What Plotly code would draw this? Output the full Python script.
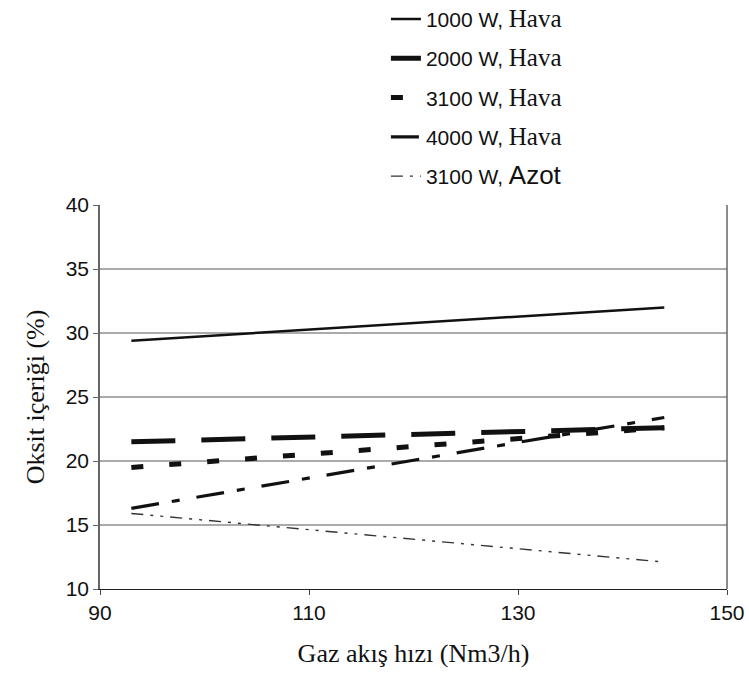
import plotly.graph_objects as go

# Data
names = ["1000 W, Hava", "2000 W, Hava", "3100 W, Hava", "4000 W, Hava", "3100 W, Azot"]
x_vals = [93, 144]
y_1000 = [29.4, 32.0]
y_2000 = [21.5, 22.6]
y_3100h = [19.5, 22.6]
y_4000 = [16.3, 23.4]
y_3100a = [15.9, 12.1]

series = [y_1000, y_2000, y_3100h, y_4000, y_3100a]
dashes = ["solid", "44px,26px", "12px,26px", "28px,13px,8px,17px", "12px,7px,3px,7px,3px,7px"]
widths = [2.5, 5, 5, 3.2, 1.4]
colors = ["#111", "#111", "#111", "#111", "#333"]

fig = go.Figure()
for i, (nm, ys) in enumerate(zip(names, series)):
    a, b = nm.split(", ")
    if b == "Azot":
        label = (f'<span style="font-family:Liberation Sans">{a},</span> '
                 f'<span style="font-family:Liberation Sans;font-size:26px">{b}</span>')
    else:
        label = (f'<span style="font-family:Liberation Sans">{a},</span> '
                 f'<span style="font-family:Liberation Serif;font-size:25px">{b}</span>')
    fig.add_trace(go.Scatter(
        x=x_vals, y=ys, mode="lines", name=label, legendgroup=f"g{i}",
        line=dict(color=colors[i], width=widths[i], dash=dashes[i]),
    ))

fig.add_shape(type="line", xref="paper", yref="y", x0=0, x1=1, y0=20, y1=20,
              line=dict(color="#111", width=1.2), layer="below")
fig.add_shape(type="line", xref="paper", yref="paper", x0=1, x1=1, y0=0, y1=1,
              line=dict(color="#666", width=1.5))

fig.update_layout(
    width=749, height=684,
    margin=dict(l=100, r=22, t=205, b=95, autoexpand=False),
    paper_bgcolor="white", plot_bgcolor="white",
    font=dict(family="Liberation Sans", color="#111", size=21),
    showlegend=True,
    legend=dict(x=0.456, y=1.537, xanchor="left", yanchor="top",
                font=dict(size=21), tracegroupgap=9, bgcolor="rgba(0,0,0,0)"),
    xaxis=dict(range=[90, 150], tickvals=[90, 110, 130, 150], showgrid=False,
               automargin=False,
               showline=True, linecolor="#222", linewidth=1.2, mirror=False,
               ticks="outside", ticklen=5, tickcolor="#444",
               tickfont=dict(size=21, family="Liberation Sans"),
               title=dict(text="Gaz akış hızı (Nm3/h)",
                          font=dict(family="Liberation Serif", size=26), standoff=20),
               zeroline=False),
    yaxis=dict(range=[10, 40], tickvals=[10, 15, 20, 25, 30, 35, 40], showgrid=True,
               automargin=False,
               gridcolor="#aaa", gridwidth=1.5,
               showline=True, linecolor="#666", linewidth=1.5,
               ticks="outside", ticklen=5, tickcolor="#666",
               tickfont=dict(size=21, family="Liberation Sans"),
               title=dict(text="Oksit içeriği (%)",
                          font=dict(family="Liberation Serif", size=26), standoff=14),
               zeroline=False),
)

fig.write_html("out.html")
